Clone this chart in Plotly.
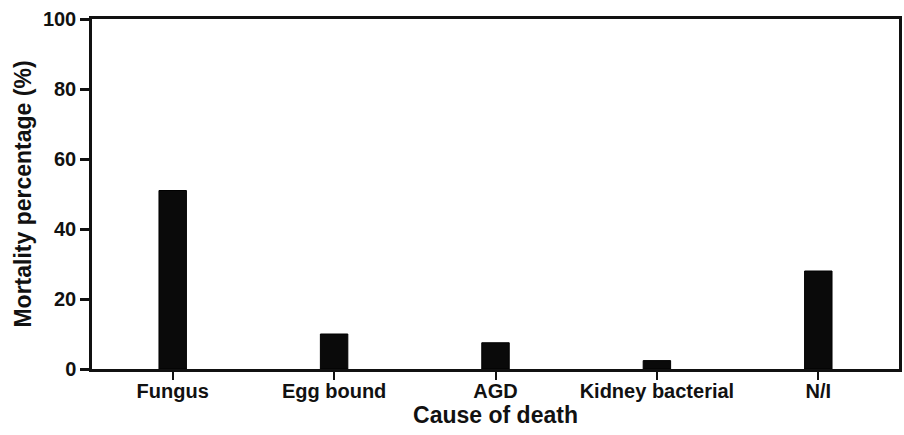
import plotly.graph_objects as go

categories = ["Fungus", "Egg bound", "AGD", "Kidney bacterial", "N/I"]
mortality = [51, 10, 7.5, 2.4, 28]
y_ticks = [0, 20, 40, 60, 80, 100]

FONT = "Liberation Sans, Arial, sans-serif"

fig = go.Figure(
    go.Bar(
        x=categories,
        y=mortality,
        width=0.17,
        marker=dict(color="#0a0a0a", line=dict(color="#000000", width=1)),
    )
)

fig.update_layout(
    width=904,
    height=435,
    autosize=False,
    margin=dict(l=92, r=5, t=19, b=66),
    plot_bgcolor="white",
    paper_bgcolor="white",
    showlegend=False,
    font=dict(family=FONT, size=20, color="#111111"),
)

fig.update_xaxes(
    range=[-0.5, 4.5],
    automargin=False,
    showline=True,
    linecolor="#111111",
    linewidth=2.5,
    mirror=True,
    ticks="outside",
    ticklen=8,
    tickwidth=2,
    tickcolor="#111111",
    showgrid=False,
    ticklabelstandoff=-6,
    tickfont=dict(family=FONT, size=20, color="#111111", weight="bold"),
    title=dict(text="<b>Cause of death</b>", font=dict(family=FONT, size=23, color="#111111"), standoff=0),
)

fig.update_yaxes(
    range=[0, 100],
    automargin=False,
    tickvals=y_ticks,
    showline=True,
    linecolor="#111111",
    linewidth=2.5,
    mirror=True,
    ticks="outside",
    ticklen=9,
    tickwidth=2.5,
    tickcolor="#111111",
    showgrid=False,
    zeroline=False,
    tickfont=dict(family=FONT, size=20, color="#111111", weight="bold"),
    title=dict(text="<b>Mortality percentage (%)</b>", font=dict(family=FONT, size=23, color="#111111"), standoff=5),
)

fig.write_html(
    "out.html",
    config={"responsive": False, "displayModeBar": False},
    post_script="document.body.style.margin='0px'; document.body.style.padding='0px'; Plotly.relayout('{plot_id}', {width: 904, height: 435});",
)
